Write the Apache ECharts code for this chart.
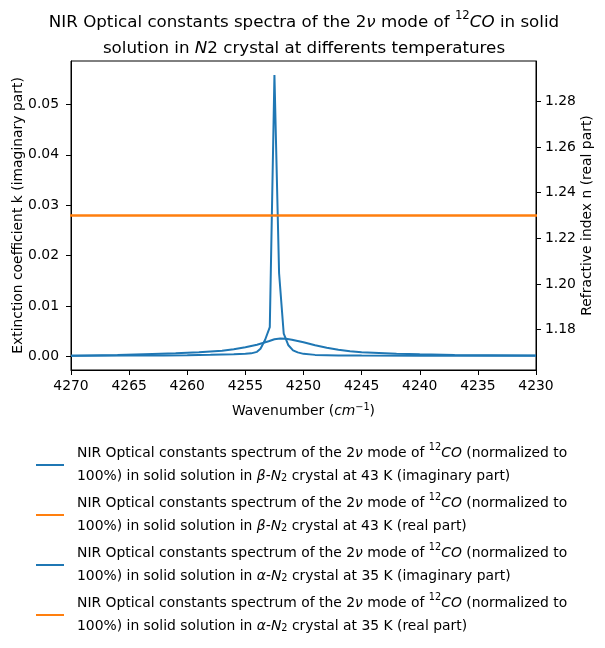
<!DOCTYPE html>
<html>
<head>
<meta charset="utf-8">
<script src="https://cdn.jsdelivr.net/npm/echarts@6/dist/echarts.min.js"></script>
<style>
  html, body { margin: 0; padding: 0; background: #fff; }
  #chart { width: 605px; height: 648px; }
</style>
</head>
<body>
<div id="chart"></div>
<script>
// wavenumbers (cm-1) and extinction coefficient k
const sharpWave = [4270, 4265, 4262, 4260, 4258, 4256, 4255, 4254.5, 4254.0, 4253.7, 4253.3, 4252.9, 4252.5, 4252.1, 4251.7, 4251.3, 4250.9, 4250.5, 4250.0, 4249, 4247, 4245, 4240, 4235, 4230];
const sharpK = [0.00012, 0.00016, 0.0002, 0.00025, 0.00032, 0.0004, 0.0005, 0.0006, 0.0009, 0.0015, 0.0033, 0.0058, 0.0558, 0.0165, 0.0045, 0.0022, 0.0012, 0.0008, 0.0005, 0.0003, 0.0002, 0.00016, 0.00013, 0.00012, 0.00011];

const broadWave = [4270, 4266, 4263, 4261, 4259, 4257, 4256, 4255, 4254, 4253, 4252.5, 4252, 4251.5, 4251, 4250, 4249, 4248, 4247, 4246, 4245, 4244, 4242, 4240, 4237, 4234, 4230];
const broadK = [0.00015, 0.0003, 0.00048, 0.0006, 0.0008, 0.0011, 0.0014, 0.0018, 0.0023, 0.003, 0.0034, 0.00355, 0.0035, 0.0033, 0.0028, 0.0022, 0.0017, 0.0013, 0.001, 0.0008, 0.0007, 0.0005, 0.0004, 0.0003, 0.00025, 0.0002];

// refractive index n (flat over the window)
const realWave = [4220, 4280];
const betaN = [1.23, 1.23];
const alphaN = [1.23, 1.23];

const xTicks = [4270, 4265, 4260, 4255, 4250, 4245, 4240, 4235, 4230];
const kTicks = [0, 0.01, 0.02, 0.03, 0.04, 0.05];
const nTicks = [1.18, 1.20, 1.22, 1.24, 1.26, 1.28];

const names = [
  "NIR Optical constants spectrum of the 2ν mode of 12CO (normalized to 100%) in solid solution in β-N2 crystal at 43 K (imaginary part)",
  "NIR Optical constants spectrum of the 2ν mode of 12CO (normalized to 100%) in solid solution in β-N2 crystal at 43 K (real part)",
  "NIR Optical constants spectrum of the 2ν mode of 12CO (normalized to 100%) in solid solution in α-N2 crystal at 35 K (imaginary part)",
  "NIR Optical constants spectrum of the 2ν mode of 12CO (normalized to 100%) in solid solution in α-N2 crystal at 35 K (real part)"
];
const legendRich = [
  "NIR Optical constants spectrum of the 2{i|ν} mode of {sup|12}{i|CO} (normalized to\n100%) in solid solution in {i|β}-{i|N}{sub|2} crystal at 43 K (imaginary part)",
  "NIR Optical constants spectrum of the 2{i|ν} mode of {sup|12}{i|CO} (normalized to\n100%) in solid solution in {i|β}-{i|N}{sub|2} crystal at 43 K (real part)",
  "NIR Optical constants spectrum of the 2{i|ν} mode of {sup|12}{i|CO} (normalized to\n100%) in solid solution in {i|α}-{i|N}{sub|2} crystal at 35 K (imaginary part)",
  "NIR Optical constants spectrum of the 2{i|ν} mode of {sup|12}{i|CO} (normalized to\n100%) in solid solution in {i|α}-{i|N}{sub|2} crystal at 35 K (real part)"
];

function pairs(xs, ys) {
  return xs.map((x, i) => [x, ys[i]]);
}

const FONT = "DejaVu Sans";
const BLUE = "#1f77b4";
const ORANGE = "#ff7f0e";

function richSet(size, lh) {
  return {
    i: { fontStyle: "italic", fontSize: size, fontFamily: FONT, lineHeight: lh, color: "#000" },
    sup: { fontSize: size * 0.7, fontFamily: FONT, verticalAlign: "top", lineHeight: size * 0.9, color: "#000" },
    sub: { fontSize: size * 0.7, fontFamily: FONT, verticalAlign: "middle", lineHeight: size * 0.9, padding: [3, 0, 0, 0], color: "#000" }
  };
}

const chart = echarts.init(document.getElementById("chart"));

const option = {
  animation: false,
  backgroundColor: "#fff",
  title: {
    text: "NIR Optical constants spectra of the 2{i|ν} mode of {sup|12}{i|CO} in solid\nsolution in {i|N}2 crystal at differents temperatures",
    left: 299,
    textAlign: "center",
    top: 5,
    textStyle: {
      fontFamily: FONT,
      fontSize: 16.7,
      fontWeight: "normal",
      color: "#000",
      lineHeight: 26,
      rich: richSet(16.7, 26)
    }
  },
  legend: {
    orient: "vertical",
    left: 36,
    top: 442,
    padding: 0,
    itemWidth: 28,
    itemHeight: 14,
    itemGap: 4,
    icon: "path://M0,6 L28,6 L28,8 L0,8 Z",
    data: names,
    formatter: function (name) {
      return legendRich[names.indexOf(name)];
    },
    textStyle: {
      fontFamily: FONT,
      fontSize: 13.9,
      color: "#000",
      lineHeight: 23,
      padding: [0, 0, 0, 8],
      rich: richSet(13.9, 23)
    }
  },
  grid: {
    left: 71,
    right: 69,
    top: 61,
    bottom: 278,
    outerBoundsMode: "none",
    containLabel: false,
    show: true,
    borderColor: "#000",
    borderWidth: 1,
    backgroundColor: "transparent"
  },
  xAxis: {
    type: "value",
    inverse: true,
    min: 4230,
    max: 4270,
    interval: 5,
    name: "Wavenumber ({i|cm}{sup|−1})",
    nameLocation: "middle",
    nameGap: 32,
    nameMoveOverlap: false,
    nameTextStyle: {
      fontFamily: FONT,
      fontSize: 13.9,
      color: "#000",
      lineHeight: 18,
      rich: richSet(13.9, 18)
    },
    axisLine: { onZero: false, lineStyle: { color: "#000", width: 1 } },
    axisTick: { show: true, length: 5, lineStyle: { color: "#000" }, customValues: xTicks },
    axisLabel: {
      customValues: xTicks,
      color: "#000",
      fontFamily: FONT,
      fontSize: 13.9,
      margin: 9,
      formatter: v => String(v)
    },
    splitLine: { show: false }
  },
  yAxis: [
    {
      type: "value",
      position: "left",
      min: -0.0027,
      max: 0.0586,
      name: "Extinction coefficient k (imaginary part)",
      nameLocation: "middle",
      nameGap: 46,
      nameMoveOverlap: false,
      nameTextStyle: { fontFamily: FONT, fontSize: 13.9, color: "#000" },
      axisLine: { show: true, onZero: false, lineStyle: { color: "#000", width: 1 } },
      axisTick: { show: true, length: 5, lineStyle: { color: "#000" }, customValues: kTicks },
      axisLabel: {
        customValues: kTicks,
        color: "#000",
        fontFamily: FONT,
        fontSize: 13.9,
        margin: 12,
        formatter: v => v.toFixed(2)
      },
      splitLine: { show: false }
    },
    {
      type: "value",
      position: "right",
      min: 1.16235,
      max: 1.29765,
      name: "Refractive index n (real part)",
      nameLocation: "middle",
      nameGap: 44,
      nameRotate: 90,
      nameMoveOverlap: false,
      nameTextStyle: { fontFamily: FONT, fontSize: 13.9, color: "#000" },
      axisLine: { show: true, onZero: false, lineStyle: { color: "#000", width: 1 } },
      axisTick: { show: true, length: 5, lineStyle: { color: "#000" }, customValues: nTicks },
      axisLabel: {
        customValues: nTicks,
        color: "#000",
        fontFamily: FONT,
        fontSize: 13.9,
        margin: 9,
        formatter: v => v.toFixed(2)
      },
      splitLine: { show: false }
    }
  ],
  series: [
    {
      name: names[0],
      type: "line",
      yAxisIndex: 0,
      data: pairs(broadWave, broadK),
      symbol: "none",
      clip: true,
      lineStyle: { color: BLUE, width: 2 },
      itemStyle: { color: BLUE }
    },
    {
      name: names[1],
      type: "line",
      yAxisIndex: 1,
      z: 3,
      data: pairs(realWave, betaN),
      symbol: "none",
      clip: true,
      lineStyle: { color: ORANGE, width: 2 },
      itemStyle: { color: ORANGE }
    },
    {
      name: names[2],
      type: "line",
      yAxisIndex: 0,
      data: pairs(sharpWave, sharpK),
      symbol: "none",
      clip: true,
      lineStyle: { color: BLUE, width: 2 },
      itemStyle: { color: BLUE }
    },
    {
      name: names[3],
      type: "line",
      yAxisIndex: 1,
      z: 3,
      data: pairs(realWave, alphaN),
      symbol: "none",
      clip: true,
      lineStyle: { color: ORANGE, width: 2 },
      itemStyle: { color: ORANGE }
    }
  ]
};

chart.setOption(option);
</script>
</body>
</html>
